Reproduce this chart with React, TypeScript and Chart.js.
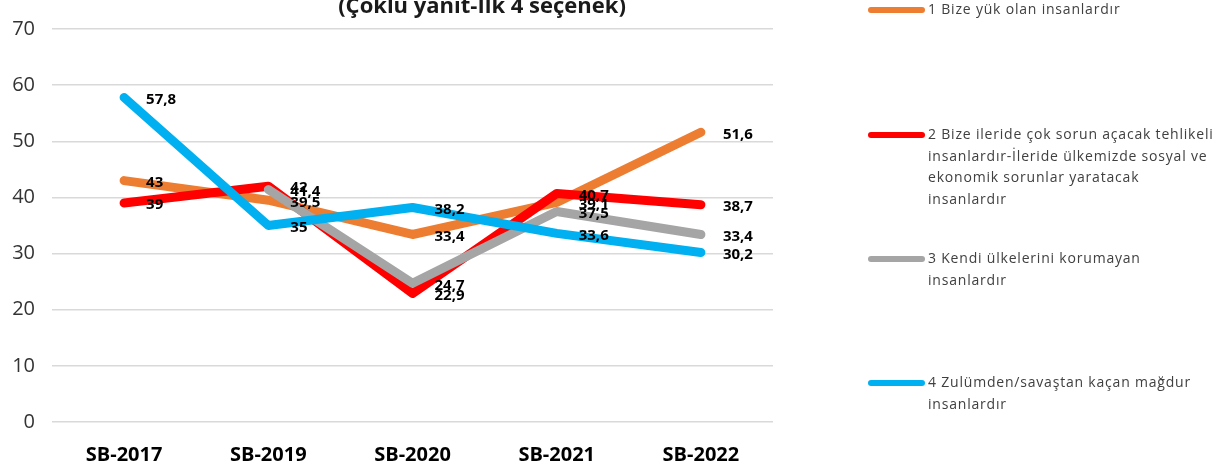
import React, { useEffect, useRef } from "react";
import { Chart, registerables } from "chart.js";

Chart.register(...registerables);

const categories = ["SB-2017", "SB-2019", "SB-2020", "SB-2021", "SB-2022"];
const yTickMin = 0;
const yTickMax = 70;
const yTickStep = 10;

const series1 = [43, 39.5, 33.4, 39.1, 51.6];
const series2 = [39, 42, 22.9, 40.7, 38.7];
const series3 = [null, 41.4, 24.7, 37.5, 33.4];
const series4 = [57.8, 35, 38.2, 33.6, 30.2];

const name1 = ["1 Bize yük olan insanlardır"];
const name2 = [
  "2 Bize ileride çok sorun açacak tehlikeli",
  "insanlardır-İleride ülkemizde sosyal ve",
  "ekonomik sorunlar yaratacak",
  "insanlardır",
];
const name3 = ["3 Kendi ülkelerini korumayan", "insanlardır"];
const name4 = ["4 Zulümden/savaştan kaçan mağdur", "insanlardır"];

const titleText = "(Çoklu yanıt-İlk 4 seçenek)";

const colors = ["#ED7D31", "#FF0000", "#A5A5A5", "#00B0F0"];
const FONT = "'Open Sans', 'DejaVu Sans', sans-serif";

const fmt = (v: number) => String(v).replace(".", ",");

const labelPlugin = {
  id: "pointLabels",
  afterDatasetsDraw(chart: any) {
    const ctx = chart.ctx;
    ctx.save();
    ctx.font = `bold 15px ${FONT}`;
    ctx.fillStyle = "#000";
    ctx.textAlign = "left";
    ctx.textBaseline = "middle";
    chart.data.datasets.forEach((ds: any, i: number) => {
      const meta = chart.getDatasetMeta(i);
      meta.data.forEach((pt: any, j: number) => {
        const v = ds.data[j];
        if (v === null || v === undefined) return;
        ctx.fillText(fmt(v), pt.x + 22, pt.y + 2);
      });
    });
    ctx.restore();
  },
};

const decorPlugin = {
  id: "decor",
  afterDraw(chart: any) {
    const ctx = chart.ctx;
    ctx.save();
    // title (second line visible)
    ctx.font = `bold 22px ${FONT}`;
    ctx.fillStyle = "#1a1a1a";
    ctx.textAlign = "center";
    ctx.textBaseline = "alphabetic";
    ctx.fillText(titleText, 482, 13);

    // legend
    const startY = [10, 135, 259, 383];
    const lineH = 21.7;
    ctx.font = `14px ${FONT}`;
    try {
      (ctx as any).letterSpacing = "0.8px";
    } catch (e) {}
    ctx.textAlign = "left";
    ctx.textBaseline = "middle";
    chart.data.datasets.forEach((ds: any, i: number) => {
      const y = startY[i];
      ctx.strokeStyle = ds.borderColor;
      ctx.lineWidth = 6;
      ctx.lineCap = "round";
      ctx.beginPath();
      ctx.moveTo(871, y);
      ctx.lineTo(922, y);
      ctx.stroke();
      ctx.fillStyle = "#404040";
      (ds.legendLines as string[]).forEach((line, k) => {
        ctx.fillText(line, 928, y + k * lineH);
      });
    });
    ctx.restore();
  },
};

export default function App() {
  const ref = useRef<HTMLCanvasElement | null>(null);
  useEffect(() => {
    if (!ref.current) return;
    const mk = (data: any[], i: number, lines: string[], order: number) => ({
      label: lines.join(" "),
      legendLines: lines,
      data,
      borderColor: colors[i],
      backgroundColor: colors[i],
      borderWidth: 9,
      borderCapStyle: "round",
      borderJoinStyle: "round",
      pointRadius: 0,
      pointHoverRadius: 0,
      tension: 0,
      fill: false,
      spanGaps: false,
      order,
    });
    const chart = new Chart(ref.current, {
      type: "line",
      data: {
        labels: categories,
        datasets: [
          mk(series1, 0, name1, 3),
          mk(series2, 1, name2, 2),
          mk(series3, 2, name3, 1),
          mk(series4, 3, name4, 0),
        ] as any,
      },
      options: {
        animation: false,
        responsive: false,
        maintainAspectRatio: false,
        layout: { padding: { left: 0, right: 448, top: 26, bottom: 0 } },
        plugins: {
          legend: { display: false },
          title: { display: false },
          tooltip: { enabled: false },
        },
        scales: {
          x: {
            offset: true,
            grid: { display: false, drawTicks: false },
            border: { display: false },
            ticks: {
              font: { family: FONT, size: 20, weight: "bold" },
              color: "#000",
              padding: 21,
            },
            afterFit: (s: any) => {
              s.height = 46;
            },
          },
          y: {
            min: yTickMin,
            max: yTickMax,
            ticks: {
              stepSize: yTickStep,
              font: { family: FONT, size: 20 },
              color: "#333",
              padding: 17,
            },
            grid: { color: "#d9d9d9", lineWidth: 1.5, drawTicks: false },
            border: { display: false },
            afterFit: (s: any) => {
              s.width = 52;
            },
          },
        },
      } as any,
      plugins: [labelPlugin, decorPlugin],
    });
    return () => chart.destroy();
  }, []);
  return (
    <div style={{ position: "fixed", left: 0, top: 0, width: 1221, height: 468, background: "#fff" }}>
      <canvas ref={ref} width={1221} height={468} style={{ width: 1221, height: 468, display: "block" }} />
    </div>
  );
}
